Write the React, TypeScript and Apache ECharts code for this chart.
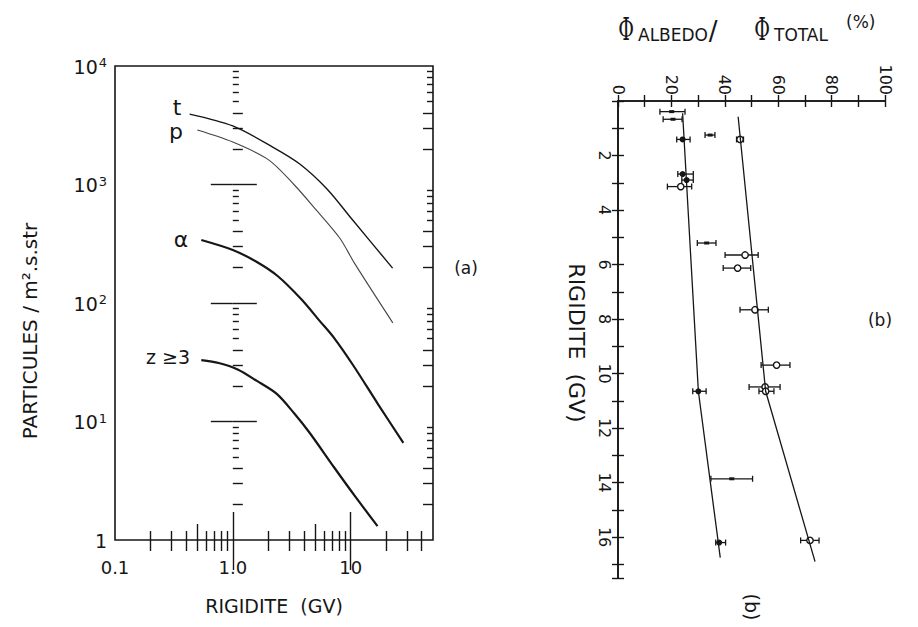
import React, { useEffect, useRef } from 'react';
import * as echarts from 'echarts';

const FONT = 'DejaVu Sans';
const INK = '#161616';

// ---------- Panel (a): particle spectra (log-log) ----------
const tCurve = [[0.43, 3930], [1.0, 3120], [2.18, 2070], [3.7, 1490], [6.3, 917], [10.4, 501], [22.7, 197]];
const pCurve = [[0.5, 2880], [1.0, 2280], [2.0, 1620], [3.3, 1000], [5.1, 610], [8.1, 352], [10.8, 216], [22.8, 68]];
const alphaCurve = [[0.54, 340], [1.0, 280], [1.6, 222], [2.4, 169], [3.8, 108], [5.5, 70], [7.2, 51], [10.6, 29.4], [17, 14.1], [28, 6.6]];
const zCurve = [[0.54, 33], [0.76, 31.2], [1.1, 27.5], [1.6, 22], [2.36, 17.1], [3.3, 11.8], [4.5, 8.0], [7.2, 4.13], [11, 2.31], [16.9, 1.31]];

const xRangeA = [0.1, 50];
const yRangeA = [1, 10000];
const xMajorTicksA = [1, 10];
const xMinorTicksA = [0.2, 0.3, 0.4, 0.5, 0.6, 0.7, 0.8, 0.9, 2, 3, 4, 5, 6, 7, 8, 9, 20, 30, 40];
const yMajorTicksA = [10, 100, 1000];
const yMinorTicksA = [2, 3, 4, 5, 6, 7, 8, 9, 20, 30, 40, 50, 60, 70, 80, 90, 200, 300, 400, 500, 600, 700, 800, 900, 2000, 3000, 4000, 5000, 6000, 7000, 8000, 9000];

// ---------- Panel (b): albedo fraction vs rigidity ----------
const filledLine = [[24.2, 0.45], [30.1, 10.65], [38.3, 16.75]];
const openLine = [[45.0, 0.58], [55.3, 10.65], [73.8, 16.9]];
// [percent, rigidity, low, high]
const filledPoints = [[24.2, 1.41, 22.0, 27.0], [24.2, 2.68, 22.4, 28.2], [25.7, 2.9, 23.9, 28.2], [30.1, 10.65, 28.0, 33.0], [37.9, 16.2, 36.6, 40.3]];
const openPoints = [[45.7, 1.41, 44.4, 47.0], [23.5, 3.14, 18.5, 27.6], [47.6, 5.65, 40.1, 52.5], [44.8, 6.13, 39.4, 49.7], [51.3, 7.66, 45.7, 56.3], [59.4, 9.69, 53.6, 64.4], [55.1, 10.49, 49.1, 60.7], [55.3, 10.65, 52.8, 58.4], [71.9, 16.12, 68.4, 75.3]];
const barOnlyPoints = [[20.1, 0.39, 15.7, 25.1], [20.6, 0.67, 16.9, 24.0], [34.5, 1.25, 32.6, 36.3], [33.2, 5.21, 29.7, 36.7], [42.6, 13.86, 34.8, 50.4]];

const GRID_A = { left: 115, top: 66, width: 318, height: 474 };
const GRID_B = { left: 618, top: 101, width: 267, height: 477 };

function mantissa(v: number) {
  return Math.round(v / Math.pow(10, Math.floor(Math.log10(v) + 1e-9)));
}

function buildErr(rows: number[][], kind: number) {
  return rows.map((r) => [r[0], r[1], r[2], r[3], kind]);
}

export default function App() {
  const ref = useRef<HTMLDivElement>(null);

  useEffect(() => {
    if (!ref.current) return;
    const chart = echarts.init(ref.current, undefined, { renderer: 'svg' });

    const txt = { fontFamily: FONT, color: INK };
    const T = (x: number, y: number, text: string, size: number, extra: any = {}, styleExtra: any = {}) => ({
      type: 'text', x, y, silent: true, ...extra,
      style: { text, font: `${size}px "${FONT}"`, fill: INK, align: 'center', verticalAlign: 'middle', ...styleExtra },
    });

    const texts: any[] = [
      T(177, 107, 't', 22),
      T(176, 131, 'p', 22),
      T(181, 239, 'α', 22),
      T(168, 357, 'z ≥3', 19),
      T(466, 268, '(a)', 17),
      T(30, 331, 'PARTICULES / m².s.str', 20, { rotation: Math.PI / 2 }),
      T(576, 343, 'RIGIDITE  (GV)', 22, { rotation: -Math.PI / 2 }),
      T(880, 320, '(b)', 17),
      T(752, 607, '(b)', 19, { rotation: -Math.PI / 2 }),
      { type: 'text', x: 626, y: 29, scaleX: 0.6, silent: true, style: { text: 'Φ', font: '32px "DejaVu Serif"', fill: INK, align: 'center', verticalAlign: 'middle' } },
      T(638, 35, 'ALBEDO', 17, {}, { align: 'left' }),
      T(713, 31, '/', 26),
      { type: 'text', x: 762, y: 29, scaleX: 0.6, silent: true, style: { text: 'Φ', font: '32px "DejaVu Serif"', fill: INK, align: 'center', verticalAlign: 'middle' } },
      T(774, 35, 'TOTAL', 17, {}, { align: 'left' }),
      T(846, 22, '(%)', 17, {}, { align: 'left' }),
    ];

    // Tick-only linear axes in log10 space (same extent as the log axes of panel a)
    const lg = (arr: number[]) => arr.map((v) => Math.log10(v));
    const xm = (f: (m: number) => boolean) => lg(xMinorTicksA.filter((v) => f(mantissa(v))));
    const ym = (f: (m: number) => boolean) => lg(yMinorTicksA.filter((v) => f(mantissa(v))));
    const tickX = (position: string, values: number[], len: number) => ({
      type: 'value', gridIndex: 0, position, min: Math.log10(xRangeA[0]), max: Math.log10(xRangeA[1]),
      axisLine: { show: false }, splitLine: { show: false }, axisLabel: { show: false },
      axisTick: { show: true, inside: true, length: len, customValues: values, lineStyle: { color: INK, width: 1.4 } },
    });
    const tickY = (position: string, values: number[], len: number) => ({
      type: 'value', gridIndex: 0, position, min: Math.log10(yRangeA[0]), max: Math.log10(yRangeA[1]),
      axisLine: { show: false }, splitLine: { show: false }, axisLabel: { show: false },
      axisTick: { show: true, inside: true, length: len, customValues: values, lineStyle: { color: INK, width: 1.4 } },
    });

    const option: any = {
      animation: false,
      backgroundColor: '#ffffff',
      grid: [
        { ...GRID_A, show: true, borderColor: INK, borderWidth: 1.6, backgroundColor: 'transparent' },
        { ...GRID_B },
      ],
      xAxis: [
        {
          type: 'log', logBase: 10, gridIndex: 0, position: 'bottom', min: xRangeA[0], max: xRangeA[1],
          axisLine: { show: false }, splitLine: { show: false }, axisTick: { show: false },
          axisLabel: {
            ...txt, fontSize: 18, margin: 18,
            formatter: (v: number) => {
              const e = Math.log10(v);
              if (Math.abs(e + 1) < 0.01) return '0.1';
              if (Math.abs(e) < 0.01) return '1.0';
              if (Math.abs(e - 1) < 0.01) return '10';
              return '';
            },
          },
          name: 'RIGIDITE  (GV)', nameLocation: 'middle', nameGap: 56,
          nameTextStyle: { ...txt, fontSize: 19 },
        },
        {
          type: 'value', gridIndex: 1, position: 'top', min: 0, max: 100, interval: 10,
          axisLine: { show: true, lineStyle: { color: INK, width: 1.6 } },
          axisTick: { show: true, inside: true, length: 6, lineStyle: { color: INK, width: 1.4 } },
          splitLine: { show: false },
          axisLabel: {
            ...txt, fontSize: 16, rotate: -90, margin: 6,
            formatter: (v: number) => (Math.round(v) % 20 === 0 ? String(Math.round(v)) : ''),
          },
        },
        {
          type: 'value', gridIndex: 1, position: 'bottom', min: 0, max: 100, interval: 10,
          axisLine: { show: true, lineStyle: { color: INK, width: 1.6 } },
          axisTick: { show: true, inside: true, length: 6, lineStyle: { color: INK, width: 1.4 } },
          splitLine: { show: false }, axisLabel: { show: false },
        },
        tickX('bottom', lg(xMajorTicksA), 28),
        tickX('bottom', xm((m) => m !== 5), 9),
        tickX('bottom', xm((m) => m === 5), 16),
        tickX('top', lg(xMajorTicksA), 30),
        tickX('top', xm(() => true), 11),
      ],
      yAxis: [
        {
          type: 'log', logBase: 10, gridIndex: 0, position: 'left', min: yRangeA[0], max: yRangeA[1],
          axisLine: { show: false }, splitLine: { show: false }, axisTick: { show: false },
          axisLabel: {
            margin: 8,
            formatter: (v: number) => {
              const e = Math.round(Math.log10(v));
              if (e === 0) return '{b|1}';
              return '{b|10}{s|' + e + '}';
            },
            rich: {
              b: { ...txt, fontSize: 19, lineHeight: 20, verticalAlign: 'bottom' },
              s: { ...txt, fontSize: 13, lineHeight: 14, verticalAlign: 'top', padding: [0, 0, 14, 1] },
            },
          },
        },
        {
          type: 'value', gridIndex: 1, position: 'left', inverse: true, min: 0, max: 17.5, interval: 1,
          axisLine: { show: true, lineStyle: { color: INK, width: 1.6 } },
          axisTick: { show: true, inside: true, length: 6, lineStyle: { color: INK, width: 1.4 } },
          splitLine: { show: false },
          axisLabel: {
            ...txt, fontSize: 16, rotate: -90, margin: 6,
            formatter: (v: number) => {
              const r = Math.round(v * 10) / 10;
              return r > 0 && Number.isInteger(r) && r % 2 === 0 ? String(r) : '';
            },
          },
        },
        {
          type: 'value', gridIndex: 1, position: 'right', inverse: true, min: 0, max: 17.5, interval: 1,
          axisLine: { show: true, lineStyle: { color: INK, width: 1.6 } },
          axisTick: { show: true, inside: true, length: 6, lineStyle: { color: INK, width: 1.4 } },
          splitLine: { show: false }, axisLabel: { show: false },
        },
        tickY('left', lg(yMajorTicksA), 24),
        tickY('left', ym((m) => m <= 4), 10),
        tickY('left', ym((m) => m > 4), 6),
        tickY('right', lg(yMajorTicksA), 22),
        tickY('right', ym((m) => m <= 4), 10),
        tickY('right', ym((m) => m > 4), 6),
      ],
      series: [
        { type: 'line', xAxisIndex: 0, yAxisIndex: 0, data: tCurve, smooth: 0.3, symbol: 'none', lineStyle: { color: INK, width: 1.4 } },
        { type: 'line', xAxisIndex: 0, yAxisIndex: 0, data: pCurve, smooth: 0.3, symbol: 'none', lineStyle: { color: '#444', width: 1.1 } },
        { type: 'line', xAxisIndex: 0, yAxisIndex: 0, data: alphaCurve, smooth: 0.3, symbol: 'none', lineStyle: { color: INK, width: 2.2 } },
        { type: 'line', xAxisIndex: 0, yAxisIndex: 0, data: zCurve, smooth: 0.3, symbol: 'none', lineStyle: { color: INK, width: 2.2 } },
        { type: 'line', xAxisIndex: 1, yAxisIndex: 1, data: filledLine, symbol: 'none', lineStyle: { color: INK, width: 1.3 } },
        { type: 'line', xAxisIndex: 1, yAxisIndex: 1, data: openLine, symbol: 'none', lineStyle: { color: INK, width: 1.3 } },
        {
          type: 'custom', xAxisIndex: 1, yAxisIndex: 1, clip: false, silent: true,
          data: [...buildErr(barOnlyPoints, 2), ...buildErr(filledPoints, 0), ...buildErr(openPoints, 1)],
          encode: { x: 0, y: 1 },
          renderItem: (params: any, api: any) => {
            const y = api.value(1);
            const pc = api.coord([api.value(0), y]);
            const pl = api.coord([api.value(2), y]);
            const ph = api.coord([api.value(3), y]);
            const kind = api.value(4);
            const st = { stroke: INK, lineWidth: 1.3 };
            const children: any[] = [
              { type: 'line', shape: { x1: pl[0], y1: pl[1], x2: ph[0], y2: ph[1] }, style: st },
              { type: 'line', shape: { x1: pl[0], y1: pl[1] - 3, x2: pl[0], y2: pl[1] + 3 }, style: st },
              { type: 'line', shape: { x1: ph[0], y1: ph[1] - 3, x2: ph[0], y2: ph[1] + 3 }, style: st },
            ];
            if (kind === 0) children.push({ type: 'circle', shape: { cx: pc[0], cy: pc[1], r: 3 }, style: { fill: INK } });
            else if (kind === 1) children.push({ type: 'circle', shape: { cx: pc[0], cy: pc[1], r: 3.2 }, style: { fill: '#fff', stroke: INK, lineWidth: 1.4 } });
            else children.push({ type: 'rect', shape: { x: pc[0] - 2.5, y: pc[1] - 1.5, width: 5, height: 3 }, style: { fill: INK } });
            return { type: 'group', children };
          },
        },
      ],
      graphic: texts,
    };

    chart.setOption(option);
    return () => chart.dispose();
  }, []);

  return <div ref={ref} style={{ width: 918, height: 627, position: 'absolute', left: 0, top: 0 }} />;
}
